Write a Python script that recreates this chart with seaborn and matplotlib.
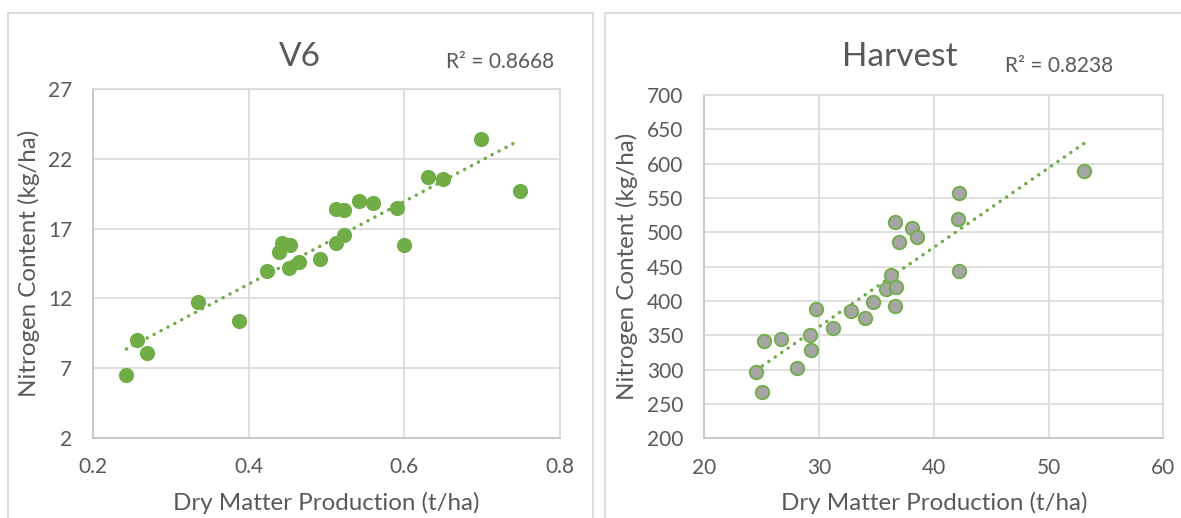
import matplotlib
matplotlib.use("Agg")
import matplotlib.pyplot as plt
import seaborn as sns
import pandas as pd
from matplotlib.lines import Line2D

# ---- data ----
v6_dry_matter = [0.243, 0.256, 0.269, 0.335, 0.387, 0.423, 0.439, 0.443, 0.453, 0.452,
                 0.465, 0.492, 0.512, 0.522, 0.512, 0.522, 0.542, 0.560, 0.590, 0.600,
                 0.630, 0.650, 0.699, 0.748]
v6_nitrogen = [6.5, 9.0, 8.1, 11.75, 10.4, 13.95, 15.35, 15.95, 15.8, 14.15,
               14.6, 14.8, 16.0, 16.55, 18.4, 18.3, 19.0, 18.8, 18.5, 15.8,
               20.7, 20.55, 23.4, 19.7]
harvest_dry_matter = [24.5, 25.0, 25.2, 26.7, 28.1, 29.2, 29.3, 29.7, 31.2, 32.8,
                      34.0, 34.7, 35.8, 36.3, 36.7, 36.6, 36.6, 37.0, 38.1, 38.5,
                      42.2, 42.1, 42.2, 53.1]
harvest_nitrogen = [296, 268, 342, 345, 303, 351, 329, 388, 360, 385,
                    375, 399, 418, 438, 421, 393, 515, 486, 506, 493,
                    557, 520, 444, 590]

v6_xticks = [0.2, 0.4, 0.6, 0.8]
v6_yticks = [2, 7, 12, 17, 22, 27]
harvest_xticks = [20, 30, 40, 50, 60]
harvest_yticks = [200, 250, 300, 350, 400, 450, 500, 550, 600, 650, 700]

titles = ["V6", "Harvest"]
r2_labels = ["R² = 0.8668", "R² = 0.8238"]
x_label = "Dry Matter Production (t/ha)"
y_label = "Nitrogen Content (kg/ha)"

df_v6 = pd.DataFrame({"dm": v6_dry_matter, "n": v6_nitrogen})
df_h = pd.DataFrame({"dm": harvest_dry_matter, "n": harvest_nitrogen})

# ---- style ----
sns.set_theme(style="white")
plt.rcParams["font.family"] = ["Lato", "DejaVu Sans"]

GREEN = "#70AD47"
GRAY_FILL = "#A5A5A5"
TEXT = "#595959"
GRID = "#D9D9D9"

W, H = 1181, 518
fig = plt.figure(figsize=(W / 100, H / 100), dpi=100)
fig.patch.set_facecolor("white")


def fx(px):
    return px / W


def fy(py):
    return 1 - py / H


# panel borders
border_kw = dict(color=GRID, lw=1.3, transform=fig.transFigure)
fig.add_artist(Line2D([fx(8), fx(8)], [fy(13), 0], **border_kw))
fig.add_artist(Line2D([fx(8), fx(593)], [fy(13), fy(13)], **border_kw))
fig.add_artist(Line2D([fx(593), fx(593)], [fy(13), 0], **border_kw))
fig.add_artist(Line2D([fx(605), fx(605)], [fy(13), 0], **border_kw))
fig.add_artist(Line2D([fx(605), 1], [fy(13), fy(13)], **border_kw))

ax1 = fig.add_axes([fx(93), fy(438), (560 - 93) / W, (438 - 89) / H])
ax2 = fig.add_axes([fx(704.3), fy(438.3), (1163.3 - 704.3) / W, (438.3 - 95) / H])

dot_style = dict(linestyle=(0, (0.05, 2.2)), dash_capstyle="round", lw=2.5, color=GREEN)

# V6 panel
sns.scatterplot(data=df_v6, x="dm", y="n", ax=ax1, s=120, color=GREEN,
                edgecolor=GREEN, linewidth=0, zorder=3)
sns.regplot(data=df_v6, x="dm", y="n", ax=ax1, scatter=False, ci=None,
            line_kws=dot_style)
ax1.set_xlim(0.2, 0.8)
ax1.set_ylim(2, 27)
ax1.set_xticks(v6_xticks)
ax1.set_xticklabels([f"{t:g}" for t in v6_xticks])
ax1.set_yticks(v6_yticks)

# Harvest panel
sns.scatterplot(data=df_h, x="dm", y="n", ax=ax2, s=95, color=GRAY_FILL,
                edgecolor=GREEN, linewidth=1.3, zorder=3)
sns.regplot(data=df_h, x="dm", y="n", ax=ax2, scatter=False, ci=None,
            line_kws=dot_style)
ax2.set_xlim(20, 60)
ax2.set_ylim(200, 700)
ax2.set_xticks(harvest_xticks)
ax2.set_yticks(harvest_yticks)

for ax, ylab_x, xlab_y in [(ax1, -0.137, -0.186), (ax2, -0.168, -0.189)]:
    ax.set_facecolor("white")
    ax.grid(True, color=GRID, lw=1.2)
    ax.set_axisbelow(True)
    for side in ["top", "right"]:
        ax.spines[side].set_color(GRID)
        ax.spines[side].set_linewidth(1.2)
    for side in ["left", "bottom"]:
        ax.spines[side].set_color("#C8C8C8")
        ax.spines[side].set_linewidth(1.4)
    ax.tick_params(axis="both", length=0, labelsize=15, labelcolor=TEXT)
    ax.tick_params(axis="y", pad=15)
    ax.tick_params(axis="x", pad=14)
    ax.set_xlabel(x_label, fontsize=17.4, color=TEXT, va="center")
    ax.set_ylabel(y_label, fontsize=17.4, color=TEXT, va="center")
    ax.xaxis.set_label_coords(0.5, xlab_y)
    ax.yaxis.set_label_coords(ylab_x, 0.5)

# titles and R² labels
fig.text(fx(300), fy(57), titles[0], fontsize=24, color=TEXT, ha="center", va="center")
fig.text(fx(900), fy(57), titles[1], fontsize=24, color=TEXT, ha="center", va="center")
fig.text(fx(500), fy(62), r2_labels[0], fontsize=15, color=TEXT, ha="center", va="center")
fig.text(fx(1059), fy(66), r2_labels[1], fontsize=15, color=TEXT, ha="center", va="center")

fig.savefig("out.png", dpi=100, facecolor="white")
